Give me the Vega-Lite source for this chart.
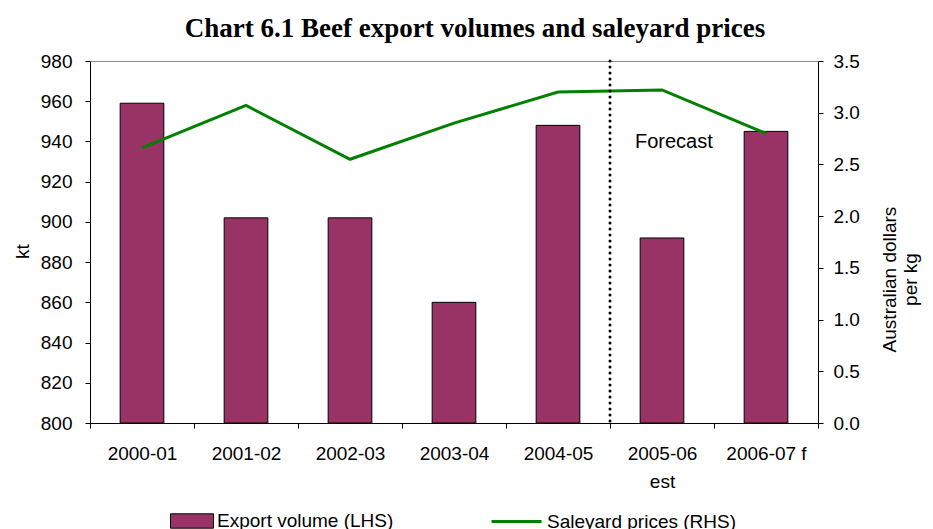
{
  "$schema": "https://vega.github.io/schema/vega-lite/v6.json",
  "width": 728,
  "height": 362,
  "autosize": {"type": "none"},
  "padding": {"left": 90, "top": 61, "right": 115, "bottom": 106},
  "background": "white",
  "config": {
    "font": "Liberation Sans",
    "view": {"stroke": "#8c8c8c", "strokeWidth": 1},
    "axis": {"labelFontSize": 19, "labelColor": "black", "titleColor": "black", "titleFontSize": 19, "titleFontWeight": "normal", "domainColor": "black", "tickColor": "black", "grid": false, "tickSize": 5},
    "legend": {"labelFontSize": 19, "labelColor": "black", "padding": 0, "labelLimit": 400}
  },
  "title": {
    "text": "Chart 6.1 Beef export volumes and saleyard prices",
    "font": "Liberation Serif",
    "fontSize": 27,
    "fontWeight": "bold",
    "color": "black",
    "anchor": "middle",
    "dx": 21,
    "offset": 9
  },
  "data": {
    "values": [
      {"year": "2000-01", "volume": 959, "price": 2.66},
      {"year": "2001-02", "volume": 902, "price": 3.07},
      {"year": "2002-03", "volume": 902, "price": 2.55},
      {"year": "2003-04", "volume": 860, "price": 2.90},
      {"year": "2004-05", "volume": 948, "price": 3.20},
      {"year": "2005-06 est", "volume": 892, "price": 3.22},
      {"year": "2006-07 f", "volume": 945, "price": 2.80}
    ]
  },
  "layer": [
    {
      "mark": {"type": "bar", "stroke": "black", "strokeWidth": 1, "width": {"band": 0.42}, "clip": true},
      "encoding": {
        "x": {
          "field": "year", "type": "nominal",
          "scale": {"domain": ["2000-01", "2001-02", "2002-03", "2003-04", "2004-05", "2005-06 est", "2006-07 f"], "paddingInner": 0, "paddingOuter": 0},
          "axis": {"title": null, "labelAngle": 0, "tickBand": "extent", "labelPadding": 16, "labelLineHeight": 28,
            "labelExpr": "datum.value == '2005-06 est' ? ['2005-06', 'est'] : datum.value"}
        },
        "y": {
          "field": "volume", "type": "quantitative",
          "scale": {"domain": [800, 980], "zero": false, "nice": false},
          "axis": {"title": "kt", "values": [800, 820, 840, 860, 880, 900, 920, 940, 960, 980], "labelPadding": 13, "titlePadding": 8, "titleY": 190}
        },
        "y2": {"datum": 800},
        "fill": {
          "datum": "Export volume (LHS)",
          "scale": {"range": ["#993366"]},
          "legend": {"title": null, "orient": "none", "legendX": 87, "legendY": 445, "symbolType": "M-1.5,-0.5H1.5V0.5H-1.5Z", "symbolSize": 822, "symbolStrokeColor": "black", "symbolStrokeWidth": 1, "symbolOpacity": 1, "labelOffset": 10}
        }
      }
    },
    {
      "mark": {"type": "line", "strokeWidth": 3},
      "encoding": {
        "x": {"field": "year", "type": "nominal", "bandPosition": 0.5},
        "y": {
          "field": "price", "type": "quantitative",
          "scale": {"domain": [0, 3.5], "nice": false},
          "axis": {"orient": "right", "title": ["Australian dollars", "per kg"], "titleAngle": 270, "values": [0, 0.5, 1, 1.5, 2, 2.5, 3, 3.5], "format": ".1f", "labelPadding": 10, "titlePadding": 19, "titleY": 218}
        },
        "stroke": {
          "datum": "Saleyard prices (RHS)",
          "scale": {"range": ["#008000"]},
          "legend": {"title": null, "orient": "none", "legendX": 400, "legendY": 434, "symbolType": "stroke", "symbolSize": 2500, "symbolStrokeWidth": 3, "labelOffset": 4}
        }
      }
    },
    {
      "data": {"values": [{"year": "2005-06 est"}]},
      "mark": {"type": "rule", "strokeWidth": 3, "strokeDash": [0, 6], "strokeCap": "round", "color": "black"},
      "encoding": {
        "x": {"field": "year", "type": "nominal", "bandPosition": 0}
      }
    },
    {
      "data": {"values": [{"year": "2005-06 est", "level": 939.7, "note": "Forecast"}]},
      "mark": {"type": "text", "align": "left", "baseline": "middle", "dx": 25, "fontSize": 20, "color": "black"},
      "encoding": {
        "x": {"field": "year", "type": "nominal", "bandPosition": 0},
        "y": {"field": "level", "type": "quantitative", "scale": {"domain": [800, 980], "zero": false, "nice": false}, "axis": null},
        "text": {"field": "note"}
      }
    }
  ],
  "resolve": {"scale": {"y": "independent"}}
}
